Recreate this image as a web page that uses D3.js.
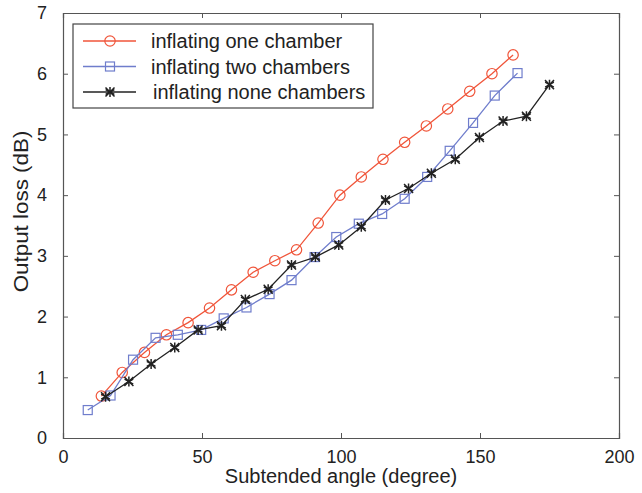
<!DOCTYPE html>
<meta charset="utf-8">
<style>
    body { margin: 0; background: #fff; }
    text { font-family: "Liberation Sans", Arial, sans-serif; fill: #222; }
    .line { fill: none; stroke-width: 1.3px; }
    .axis path, .axis line { stroke: #555; }
</style>
<body>
<svg width="642" height="493"></svg>
<script src="https://d3js.org/d3.v7.min.js"></script>
<script>

    // data
    var oneX = [13.8, 21.3, 29.3, 37.2, 45.0, 52.7, 60.6, 68.4, 76.2, 84.0, 91.8, 99.6, 107.3, 115.1, 122.9, 130.7, 138.4, 146.3, 154.3, 161.9];
    var oneY = [0.69, 1.08, 1.41, 1.70, 1.90, 2.14, 2.44, 2.73, 2.92, 3.10, 3.54, 4.00, 4.30, 4.59, 4.87, 5.14, 5.42, 5.71, 6.00, 6.31];

    var twoX = [8.9, 17.1, 25.2, 33.3, 41.3, 49.7, 57.8, 66.0, 74.3, 82.2, 90.5, 98.3, 106.4, 114.8, 122.9, 131.0, 139.1, 147.5, 155.3, 163.5];
    var twoY = [0.46, 0.70, 1.29, 1.65, 1.70, 1.78, 1.97, 2.15, 2.37, 2.60, 2.98, 3.31, 3.53, 3.69, 3.94, 4.30, 4.73, 5.19, 5.64, 6.01];

    var noneX = [15.3, 23.7, 31.7, 40.2, 48.6, 57.0, 65.6, 73.8, 82.2, 90.8, 99.2, 107.3, 116.0, 124.3, 132.5, 141.1, 149.8, 158.3, 166.7, 175.0];
    var noneY = [0.68, 0.93, 1.22, 1.49, 1.78, 1.85, 2.28, 2.45, 2.85, 2.98, 3.18, 3.48, 3.92, 4.11, 4.36, 4.59, 4.95, 5.22, 5.30, 5.82];

    var xTicks = [0, 50, 100, 150, 200];
    var yTicks = [0, 1, 2, 3, 4, 5, 6, 7];

    var seriesNames = ["inflating one chamber", "inflating two chambers", "inflating none chambers"];
    var seriesColors = ["#f0553a", "#6f7dcc", "#222222"];
    var seriesMarkers = ["circle", "square", "star"];

    var series = [
        {xs: oneX, ys: oneY},
        {xs: twoX, ys: twoY},
        {xs: noneX, ys: noneY}
    ].map(function (s, i) {
        return {
            name: seriesNames[i], color: seriesColors[i], marker: seriesMarkers[i],
            values: s.xs.map(function (x, j) { return {x: x, y: s.ys[j]}; })
        };
    });

    var svg = d3.select("svg"),
        margin = {top: 13, right: 23, bottom: 55, left: 63},
        width = +svg.attr("width") - margin.left - margin.right,
        height = +svg.attr("height") - margin.top - margin.bottom;

    var x = d3.scaleLinear().domain([0, 200]).range([0, width]),
        y = d3.scaleLinear().domain([0, 7]).range([height, 0]);

    var g = svg.append("g")
        .attr("transform", "translate(" + margin.left + "," + margin.top + ")");

    // box with inward ticks on all four sides
    g.append("g").attr("class", "axis")
        .attr("transform", "translate(0," + height + ")")
        .call(d3.axisBottom(x).tickValues(xTicks).tickSize(-5).tickPadding(12).tickFormat(d3.format("d")));
    g.append("g").attr("class", "axis")
        .call(d3.axisTop(x).tickValues(xTicks).tickSize(-5).tickFormat(""));
    g.append("g").attr("class", "axis")
        .call(d3.axisLeft(y).tickValues(yTicks).tickSize(-5).tickPadding(16).tickFormat(d3.format("d")));
    g.append("g").attr("class", "axis")
        .attr("transform", "translate(" + width + ",0)")
        .call(d3.axisRight(y).tickValues(yTicks).tickSize(-5).tickFormat(""));

    g.selectAll(".axis text").style("font-size", "18px").attr("fill", "#222");
    g.selectAll(".axis .domain").attr("stroke-width", 1.2);

    // axis labels
    g.append("text")
        .attr("x", width / 2).attr("y", height + 45)
        .style("text-anchor", "middle").style("font-size", "20px")
        .text("Subtended angle (degree)");

    g.append("text")
        .attr("transform", "translate(" + (-35) + "," + (height / 2 - 14) + ") rotate(-90) scale(1.12,1)")
        .style("text-anchor", "middle").style("font-size", "20px")
        .text("Output loss (dB)");

    var line = d3.line()
        .x(function (d) { return x(d.x); })
        .y(function (d) { return y(d.y); });

    function drawMarker(sel, type, color) {
        if (type === "circle") {
            sel.append("circle").attr("r", 5.2)
                .attr("fill", "none").attr("stroke", color).attr("stroke-width", 1.2);
        } else if (type === "square") {
            sel.append("rect").attr("x", -4.5).attr("y", -4.5).attr("width", 9).attr("height", 9)
                .attr("fill", "none").attr("stroke", color).attr("stroke-width", 1.2);
        } else {
            sel.append("path")
                .attr("d", d3.symbol().type(d3.symbolAsterisk).size(70))
                .attr("fill", "none").attr("stroke", color).attr("stroke-width", 1.5);
            sel.append("path")
                .attr("d", d3.symbol().type(d3.symbolTimes).size(55))
                .attr("fill", "none").attr("stroke", color).attr("stroke-width", 1.5);
        }
    }

    series.forEach(function (s) {
        g.append("path")
            .datum(s.values)
            .attr("class", "line")
            .attr("stroke", s.color)
            .attr("d", line);

        g.selectAll(null)
            .data(s.values)
            .enter().append("g")
            .attr("transform", function (d) { return "translate(" + x(d.x) + "," + y(d.y) + ")"; })
            .each(function () { drawMarker(d3.select(this), s.marker, s.color); });
    });

    // legend
    var legend = svg.append("g").attr("transform", "translate(73,24)");
    legend.append("rect")
        .attr("width", 300).attr("height", 84)
        .attr("fill", "#fff").attr("stroke", "#444").attr("stroke-width", 1.2);

    series.forEach(function (s, i) {
        var row = legend.append("g").attr("transform", "translate(0," + (17 + i * 25.5) + ")");
        row.append("line")
            .attr("x1", 10).attr("x2", 63)
            .attr("stroke", s.color).attr("stroke-width", 1.3);
        drawMarker(row.append("g").attr("transform", "translate(37,0)"), s.marker, s.color);
        row.append("text")
            .attr("x", i === 2 ? 80 : 78).attr("y", 7)
            .style("font-size", "20px")
            .text(s.name);
    });

</script>
</body>
